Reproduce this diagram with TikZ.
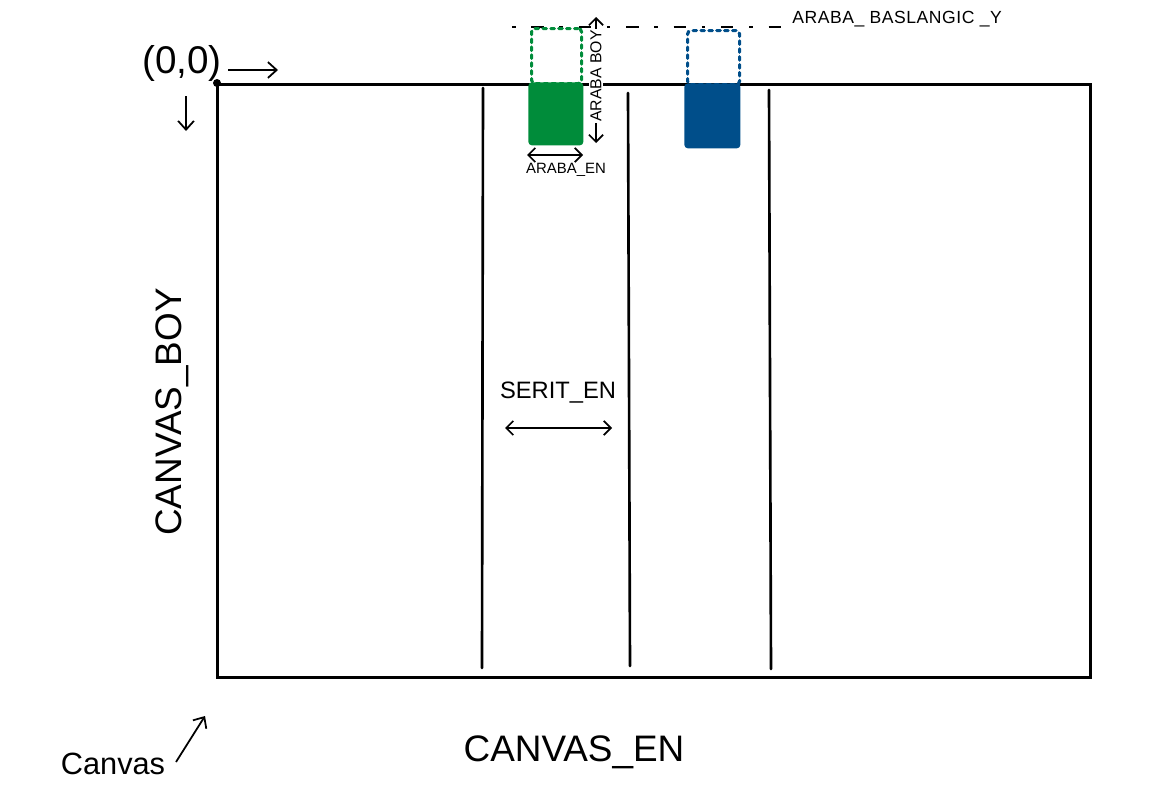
\documentclass[tikz,border=0pt]{standalone}
\usepackage{fontspec}
\setmainfont{Liberation Sans}
\usetikzlibrary{arrows.meta}
\definecolor{cargreen}{HTML}{008C3A}
\definecolor{carblue}{HTML}{004E8A}
\tikzset{
  lbl/.style={inner sep=0pt, font=#1},
  hand/.style={line width=1.5pt, line cap=round, line join=round},
  arr/.style={line width=1pt, -{Straight Barb[length=5pt,width=9pt]}},
  darr/.style={line width=1pt, {Straight Barb[length=4pt,width=8pt]}-{Straight Barb[length=4pt,width=8pt]}},
  ghost/.style={line width=1.8pt, dash pattern=on 2pt off 2.5pt, line cap=round},
}
\begin{document}
\begin{tikzpicture}[x=0.02cm,y=-0.02cm]
\useasboundingbox (0,0) rectangle (1157,801);
% canvas
\node[draw, line width=1.5pt, minimum width=873*0.02cm, minimum height=593*0.02cm, inner sep=0pt, anchor=north west] (canvas) at (216,83) {};
\fill (217,83) circle (4);
% lanes
\coordinate (l1t) at (483,88); \coordinate (l1b) at (482,668);
\coordinate (l2t) at (628,93); \coordinate (l2b) at (630,666);
\coordinate (l3t) at (769,90); \coordinate (l3b) at (771,669);
\draw[hand] (l1t) -- (l1b);
\draw[hand] (l2t) -- (l2b);
\draw[hand] (l3t) -- (l3b);
% start line
\coordinate (sl1) at (512,27); \coordinate (sl2) at (787,27);
\draw[line width=1.1pt, dash pattern=on 2pt off 9pt on 7pt off 9pt] (sl1) -- (sl2);
\node[lbl={\fontsize{10}{12}\selectfont\addfontfeature{LetterSpace=3}}, anchor=west] (baslangic) at (792,19) {ARABA\_ BASLANGIC \_Y};
% green car
\node[ghost, draw=cargreen, minimum width=50*0.02cm, minimum height=55*0.02cm, inner sep=0pt, anchor=north west, rounded corners=2pt] (gghost) at (530,27) {};
\node[fill=cargreen, minimum width=55*0.02cm, minimum height=63*0.02cm, inner sep=0pt, anchor=north west, rounded corners=2pt] (gcar) at (528,82) {};
% blue car
\node[ghost, draw=carblue, minimum width=52*0.02cm, minimum height=54*0.02cm, inner sep=0pt, anchor=north west, rounded corners=2pt] (bghost) at (686,29) {};
\node[fill=carblue, minimum width=56*0.02cm, minimum height=65*0.02cm, inner sep=0pt, anchor=north west, rounded corners=2pt] (bcar) at (684,83) {};
% araba boy
\coordinate (ab1) at (596,143); \coordinate (ab2) at (596,17);
\draw[darr] (ab1) -- (ab2);
\node[lbl={\fontsize{9}{10}\selectfont}, rotate=90, fill=white, inner sep=1pt] (araboy) at (596,76) {ARABA BOY};
% araba en
\coordinate (ae1) at (527,155); \coordinate (ae2) at (583,155);
\draw[darr] (ae1) -- (ae2);
\node[lbl={\fontsize{8.5}{10}\selectfont}] (arabaen) at (566,170) {ARABA\_EN};
% serit en
\coordinate (se1) at (505,428); \coordinate (se2) at (612,428);
\draw[darr] (se1) -- (se2);
\node[lbl={\fontsize{13.5}{16}\selectfont}] (seriten) at (558,393) {SERIT\_EN};
% origin
\node[lbl={\fontsize{22}{26}\selectfont}] (origin) at (182,63) {(0,0)};
\coordinate (ox1) at (228,70); \coordinate (ox2) at (278,70);
\draw[arr] (ox1) -- (ox2);
\coordinate (oy1) at (186,96); \coordinate (oy2) at (186,131);
\draw[arr] (oy1) -- (oy2);
% canvas labels
\node[lbl={\fontsize{21}{24}\selectfont}, rotate=90] (canvasboy) at (172,412) {CANVAS\_BOY};
\node[lbl={\fontsize{21}{24}\selectfont}] (canvasen) at (574,752) {CANVAS\_EN};
\node[lbl={\fontsize{17.5}{21}\selectfont}] (canvaslbl) at (113,764) {Canvas};
\coordinate (ca1) at (176,762); \coordinate (ca2) at (205,716);
\draw[arr] (ca1) -- (ca2);
\end{tikzpicture}
\end{document}
